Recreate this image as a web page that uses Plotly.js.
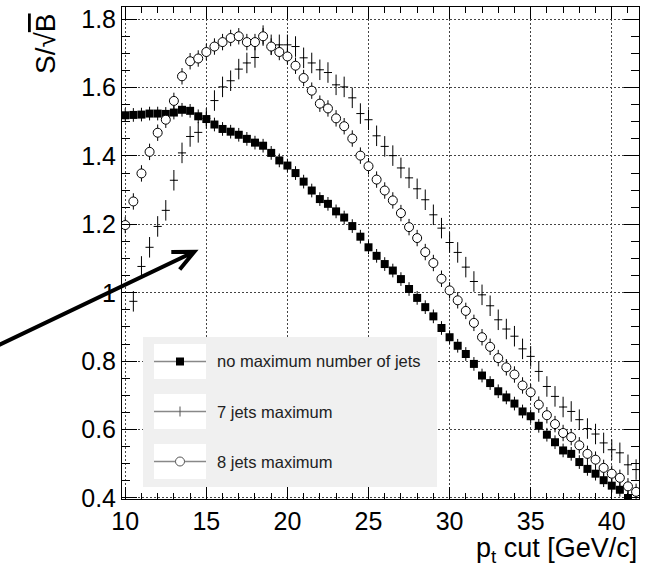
<!DOCTYPE html>
<html>
<head>
<meta charset="utf-8">
<script src="https://cdn.plot.ly/plotly-3.0.1.min.js"></script>
<style>html,body{margin:0;padding:0;background:#fff;}#chart{width:649px;height:568px;}</style>
</head>
<body>
<div id="chart"></div>
<script>
// pt cut values [GeV/c]
const ptCut = [10,10.5,11,11.5,12,12.5,13,13.5,14,14.5,15,15.5,16,16.5,17,17.5,18,18.5,19,19.5,
  20,20.5,21,21.5,22,22.5,23,23.5,24,24.5,25,25.5,26,26.5,27,27.5,28,28.5,29,29.5,
  30,30.5,31,31.5,32,32.5,33,33.5,34,34.5,35,35.5,36,36.5,37,37.5,38,38.5,39,39.5,
  40,40.5,41,41.5];

// S/sqrt(B), no maximum number of jets
const noMaxJets = [1.519,1.520,1.521,1.524,1.524,1.523,1.527,1.535,1.532,1.516,
  1.508,1.492,1.479,1.471,1.462,1.450,1.439,1.430,1.409,1.387,
  1.372,1.350,1.325,1.299,1.274,1.260,1.238,1.220,1.195,1.164,
  1.133,1.108,1.084,1.065,1.040,1.011,0.985,0.958,0.931,0.897,
  0.870,0.845,0.821,0.792,0.758,0.736,0.712,0.694,0.676,0.653,
  0.639,0.611,0.585,0.563,0.539,0.529,0.505,0.485,0.471,0.452,
  0.436,0.424,0.400,null];

// S/sqrt(B), 7 jets maximum
const jets7Max = [null,0.975,1.077,1.133,1.194,1.241,1.329,1.409,1.457,1.469,
  1.510,1.562,1.602,1.620,1.654,1.672,1.688,1.752,1.725,1.725,
  1.725,1.720,1.687,1.672,1.652,1.644,1.608,1.602,1.570,1.524,
  1.506,1.459,1.428,1.401,1.365,1.336,1.304,1.272,1.228,1.189,
  1.147,1.118,1.075,1.033,0.994,0.962,0.921,0.894,0.873,0.836,
  0.814,0.770,0.726,0.697,0.666,0.653,0.629,0.603,0.587,0.561,
  0.541,0.532,0.497,0.483];

// S/sqrt(B), 8 jets maximum
const jets8Max = [1.198,1.267,1.349,1.412,1.468,1.506,1.561,1.633,1.677,1.685,
  1.704,1.720,1.733,1.745,1.750,1.733,1.733,1.750,1.720,1.704,
  1.691,1.664,1.628,1.591,1.553,1.539,1.510,1.487,1.451,1.401,
  1.370,1.331,1.299,1.270,1.233,1.192,1.160,1.119,1.087,1.041,
  1.007,0.978,0.947,0.912,0.870,0.842,0.809,0.782,0.761,0.729,
  0.709,0.673,0.642,0.616,0.590,0.578,0.554,0.529,0.512,0.488,
  0.471,0.459,0.434,0.418];

const seriesNames = ['no maximum number of jets','7 jets maximum','8 jets maximum'];

// ---- geometry helpers (page pixels -> paper) ----
const L = 122, R = 639, T = 7, B = 499;
const px = p => (p - L) / (R - L);
const py = p => (B - p) / (B - T);

const FONT = 'Liberation Sans, Arial, Helvetica, sans-serif';

const traces = [
  {
    x: ptCut, y: noMaxJets, type: 'scatter', mode: 'markers', name: seriesNames[0],
    marker: {symbol: 'square', size: 8, color: '#000'},
    error_y: {type: 'constant', value: 0.02, color: '#000', thickness: 1, width: 0},
    cliponaxis: true, showlegend: false
  },
  {
    x: ptCut, y: jets7Max, type: 'scatter', mode: 'markers', name: seriesNames[1],
    marker: {symbol: 'circle', size: 1, color: '#000'},
    error_x: {type: 'constant', value: 0.25, color: '#000', thickness: 1, width: 0},
    error_y: {type: 'constant', value: 0.03, color: '#000', thickness: 1, width: 0},
    cliponaxis: true, showlegend: false
  },
  {
    x: ptCut, y: jets8Max, type: 'scatter', mode: 'markers', name: seriesNames[2],
    marker: {symbol: 'circle', size: 9, color: '#fff', line: {color: '#000', width: 1}},
    error_y: {type: 'constant', value: 0.024, color: '#000', thickness: 1, width: 0},
    cliponaxis: true, showlegend: false
  }
];

// legend drawn ROOT-style
const legRows = [361.5, 411.5, 461.5];
const shapes = [
  {type: 'rect', xref: 'paper', yref: 'paper', layer: 'above',
   x0: px(143), x1: px(437), y0: py(487), y1: py(337),
   fillcolor: '#f0f0f0', line: {width: 0}}
];
legRows.forEach(r => {
  shapes.push({type: 'rect', xref: 'paper', yref: 'paper', layer: 'above',
    x0: px(154), x1: px(206), y0: py(r + 17.5), y1: py(r - 17.5),
    fillcolor: '#fff', line: {width: 0}});
  shapes.push({type: 'line', xref: 'paper', yref: 'paper', layer: 'above',
    x0: px(154), x1: px(206), y0: py(r), y1: py(r),
    line: {color: '#888', width: 1.5}});
});
// legend swatches
shapes.push({type: 'rect', xref: 'paper', yref: 'paper', layer: 'above',
  x0: px(176), x1: px(184), y0: py(legRows[0] + 4), y1: py(legRows[0] - 4),
  fillcolor: '#000', line: {width: 0}});
shapes.push({type: 'line', xref: 'paper', yref: 'paper', layer: 'above',
  x0: px(180), x1: px(180), y0: py(legRows[1] + 5), y1: py(legRows[1] - 5),
  line: {color: '#555', width: 1}});
shapes.push({type: 'circle', xref: 'paper', yref: 'paper', layer: 'above',
  x0: px(175.5), x1: px(184.5), y0: py(legRows[2] + 4.5), y1: py(legRows[2] - 4.5),
  fillcolor: '#fff', line: {color: '#555', width: 1}});

// annotation arrow (drawn as a path): tail, tip and the two head arms, in page pixels
const arrowTail = [-6, 347.3], arrowTip = [194.3, 251.7];
const arrowArm1 = [171.3, 251.9], arrowArm2 = [179.7, 269.4];
const P = pt => px(pt[0]).toFixed(5) + ',' + py(pt[1]).toFixed(5);
shapes.push({type: 'path', xref: 'paper', yref: 'paper', layer: 'above',
  path: 'M' + P(arrowTail) + 'L' + P(arrowTip) + 'M' + P(arrowArm1) + 'L' + P(arrowTip) + 'L' + P(arrowArm2),
  line: {color: '#000', width: 4}});

const annotations = seriesNames.map((n, i) => ({
  text: n, xref: 'paper', yref: 'paper', x: px(215), y: py(legRows[i]),
  xanchor: 'left', yanchor: 'middle', showarrow: false,
  font: {family: FONT, size: 16.5, color: '#222'}
}));

// axis titles
annotations.push({
  text: 'p<sub>t</sub> cut [GeV/c]', xref: 'paper', yref: 'paper',
  x: 1, y: py(531), xanchor: 'right', yanchor: 'top', showarrow: false,
  font: {family: FONT, size: 27, color: '#000'}
});
annotations.push({
  text: 'S/√<span style="text-decoration:overline">B</span>', xref: 'paper', yref: 'paper',
  x: px(45), y: py(44), xanchor: 'center', yanchor: 'middle', textangle: -90, showarrow: false,
  font: {family: FONT, size: 28, color: '#000'}
});

const layout = {
  width: 649, height: 568,
  margin: {l: L, r: 649 - R, t: T, b: 568 - B, pad: 0},
  paper_bgcolor: '#fff', plot_bgcolor: '#fff',
  showlegend: false,
  font: {family: FONT, size: 25, color: '#000'},
  xaxis: {
    range: [9.80, 41.68], tickmode: 'linear', tick0: 0, dtick: 5,
    ticks: 'inside', ticklen: 12, tickcolor: '#000', tickwidth: 1,
    showline: true, linecolor: '#000', linewidth: 1, mirror: 'ticks',
    showgrid: true, gridcolor: '#444', griddash: '2px,2px', gridwidth: 1,
    zeroline: false,
    tickfont: {family: FONT, size: 25, color: '#000'},
    minor: {dtick: 1, tick0: 0, ticks: 'inside', ticklen: 6, tickcolor: '#000', showgrid: false}
  },
  yaxis: {
    range: [0.397, 1.8356], tickmode: 'linear', tick0: 0, dtick: 0.2,
    ticks: 'inside', ticklen: 15, tickcolor: '#000', tickwidth: 1,
    showline: true, linecolor: '#000', linewidth: 1, mirror: 'ticks',
    showgrid: true, gridcolor: '#444', griddash: '2px,2px', gridwidth: 1,
    zeroline: false,
    tickfont: {family: FONT, size: 25, color: '#000'},
    minor: {dtick: 0.05, tick0: 0, ticks: 'inside', ticklen: 8, tickcolor: '#000', showgrid: false}
  },
  shapes: shapes,
  annotations: annotations
};

Plotly.newPlot('chart', traces, layout, {staticPlot: true, displayModeBar: false});
</script>
</body>
</html>
